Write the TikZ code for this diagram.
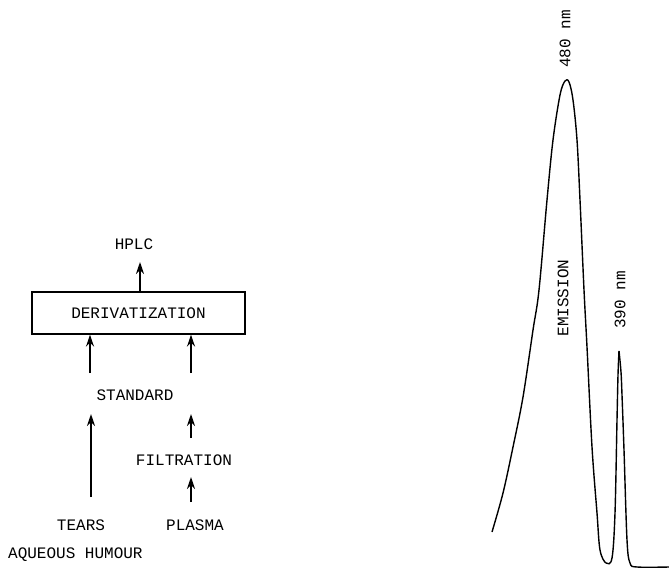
\documentclass[tikz,border=0pt]{standalone}
\usepackage{fontspec}
\setmonofont{Liberation Mono}
\usetikzlibrary{arrows.meta, positioning, calc}
\tikzset{
  lbl/.style={font=\ttfamily\fontsize{16}{16}\selectfont, inner sep=0pt},
  upar/.style={line width=1.8pt, -{Stealth[length=12pt,width=8pt]}},
  procbox/.style={draw, line width=1.2pt, minimum width=213pt, minimum height=42pt, inner sep=0pt}
}
\begin{document}
\begin{tikzpicture}[x=1pt,y=-1pt]
    \useasboundingbox (0,0) rectangle (669,569);

    % Schema
    \node[lbl] (hplc) at (134,244) {HPLC};
    \node[procbox, lbl] (deriv) at (138.5,313) {\raisebox{-6pt}{DERIVATIZATION}};
    \node[lbl] (standard) at (135,395) {STANDARD};
    \node[lbl] (filtration) at (184,460) {FILTRATION};
    \node[lbl] (tears) at (81,525) {TEARS};
    \node[lbl] (plasma) at (195,525) {PLASMA};
    \node[lbl, anchor=west] (aqueous) at (8,555) {AQUEOUS HUMOUR};

    % Pfeile
    \coordinate (h1) at (140,262);
    \coordinate (t0) at (91,497);
    \coordinate (t1) at (91,414);
    \coordinate (p0) at (191,502);
    \coordinate (p1) at (191,477);
    \coordinate (f0) at (191,438);
    \coordinate (f1) at (191,414);
    \coordinate (s0) at (90,373);
    \coordinate (s1) at (191,373);
    \draw[upar] (deriv.north -| h1) -- (h1);
    \draw[upar] (t0) -- (t1);
    \draw[upar] (p0) -- (p1);
    \draw[upar] (f0) -- (f1);
    \draw[upar] (s0) -- (deriv.south -| s0);
    \draw[upar] (s1) -- (deriv.south -| s1);

    % Spektrum
    \draw[line width=1.4pt, line join=round] plot[smooth, tension=0.55] coordinates {
      (492,532) (503,493) (513,447) (523,397) (533,330) (539,290)
      (547,200) (553,140) (560,95) (565,81) (569,82) (573,100)
      (577,140) (580,200) (584,290) (587,347) (592,447) (597,513)
      (600,550) (606,563) (612,558) (615,513) (617,420) (618,375) (619,351)
    };
    \draw[line width=1.4pt, line join=round] plot[smooth, tension=0.55] coordinates {
      (619,351) (621,372) (622,395) (624,450) (627,540) (630,563)
      (637,567) (669,567)
    };
    \node[lbl, rotate=90] (nm480) at (565,39) {480 nm};
    \node[lbl, rotate=90] (emission) at (563,298) {EMISSION};
    \node[lbl, rotate=90] (nm390) at (620,300) {390 nm};
\end{tikzpicture}
\end{document}
